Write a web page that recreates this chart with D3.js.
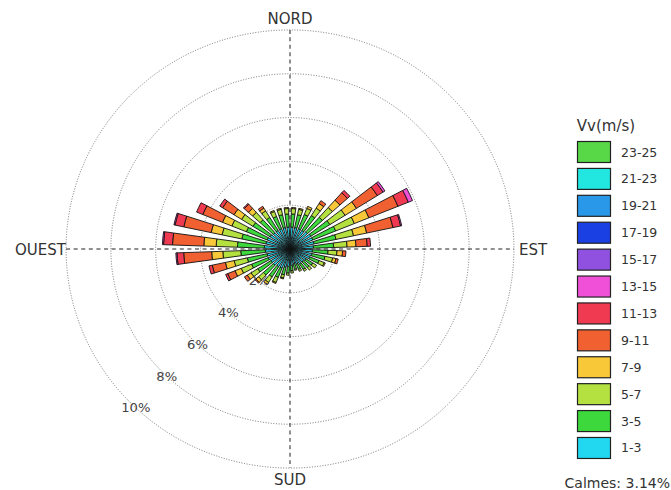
<!DOCTYPE html>
<html>
<head>
<meta charset="utf-8">
<script src="https://cdn.jsdelivr.net/npm/d3@7"></script>
<style>
  body { margin: 0; background: #fff; }
  svg { font-family: "DejaVu Sans", sans-serif; }
</style>
</head>
<body>
<div id="plot-container"></div>
<script>
// directions (compass degrees, bin centres)
const directions = [5, 15, 25, 35, 45, 55, 65, 75, 85, 95, 105, 115, 125, 135, 145, 155, 165, 175,
  185, 195, 205, 215, 225, 235, 245, 255, 265, 275, 285, 295, 305, 315, 325, 335, 345, 355];

// frequency (%) per speed class, one value per direction
const v1_3 = [1.0, 1.0, 1.0, 1.0, 1.05, 1.1, 1.1, 1.1, 1.05, 1.0, 1.0, 0.95, 0.85, 0.8, 0.8, 0.75, 0.7, 0.75,
  0.8, 0.85, 0.95, 0.95, 1.0, 1.0, 1.05, 1.05, 1.1, 1.15, 1.1, 1.1, 1.05, 1.0, 1.0, 1.0, 1.0, 1.0];
const v3_5 = [0.6, 0.6, 0.7, 0.8, 0.9, 1.0, 1.1, 1.0, 0.9, 0.7, 0.6, 0.45, 0.35, 0.35, 0.3, 0.25, 0.25, 0.25,
  0.3, 0.35, 0.45, 0.55, 0.6, 0.7, 0.8, 0.9, 1.1, 1.2, 1.1, 1.0, 0.9, 0.8, 0.7, 0.6, 0.6, 0.6];
const v5_7 = [0.25, 0.25, 0.3, 0.4, 0.6, 0.8, 0.9, 0.8, 0.6, 0.4, 0.35, 0.25, 0.2, 0.15, 0.1, 0.1, 0.05, 0.1,
  0.1, 0.15, 0.25, 0.3, 0.3, 0.35, 0.5, 0.6, 0.8, 0.95, 0.9, 0.7, 0.6, 0.45, 0.35, 0.25, 0.25, 0.25];
const v7_9 = [0.05, 0.05, 0.1, 0.25, 0.45, 0.6, 0.7, 0.6, 0.4, 0.25, 0.15, 0.05, 0, 0, 0, 0, 0, 0,
  0, 0.05, 0.05, 0.1, 0.15, 0.2, 0.3, 0.4, 0.5, 0.55, 0.5, 0.45, 0.4, 0.25, 0.15, 0.05, 0.05, 0.05];
const v9_11 = [0, 0, 0, 0.15, 0.45, 1.1, 1.4, 1.2, 0.5, 0.15, 0.1, 0, 0, 0, 0, 0, 0, 0,
  0, 0, 0, 0, 0.05, 0.15, 0.35, 0.6, 1.25, 1.4, 1.25, 0.95, 0.6, 0.25, 0.1, 0, 0, 0];
const v11_13 = [0, 0, 0, 0, 0.15, 0.3, 0.5, 0.35, 0.15, 0, 0, 0, 0, 0, 0, 0, 0, 0,
  0, 0, 0, 0, 0, 0, 0.1, 0.15, 0.3, 0.4, 0.4, 0.3, 0.15, 0.05, 0, 0, 0, 0];
const v13_15 = [0, 0, 0, 0, 0, 0.1, 0.2, 0.05, 0, 0, 0, 0, 0, 0, 0, 0, 0, 0,
  0, 0, 0, 0, 0, 0, 0, 0, 0.05, 0.05, 0.05, 0, 0, 0, 0, 0, 0, 0];
const v15_17 = directions.map(() => 0);
const v17_19 = directions.map(() => 0);
const v19_21 = directions.map(() => 0);
const v21_23 = directions.map(() => 0);
const v23_25 = directions.map(() => 0);

const classes = ['1-3', '3-5', '5-7', '7-9', '9-11', '11-13', '13-15', '15-17', '17-19', '19-21', '21-23', '23-25'];
const classValues = [v1_3, v3_5, v5_7, v7_9, v9_11, v11_13, v13_15, v15_17, v17_19, v19_21, v21_23, v23_25];
const classColors = ['#22d8f0', '#3cd83c', '#b4e040', '#f8c838', '#f06030', '#f03a52', '#f050d8',
  '#9050e0', '#1a40e4', '#2a98e8', '#22e6e0', '#58d846'];

const ringTicks = [2, 4, 6, 8, 10];
const cardinals = ['NORD', 'EST', 'SUD', 'OUEST'];
const calmes = 3.14;

const width = 671;
const height = 490;
const cx = 290;
const cy = 249;

const svg = d3.select('#plot-container')
  .append('svg')
  .attr('width', width)
  .attr('height', height);

const rScale = d3.scaleLinear().domain([0, 10]).range([0, 221.5]);

const plot = svg.append('g')
  .attr('transform', `translate(${cx}, ${cy}) scale(1.011, 0.989)`);

// rings (dotted)
plot.selectAll('circle.ring')
  .data(ringTicks)
  .enter()
  .append('circle')
  .attr('class', 'ring')
  .attr('r', d => rScale(d))
  .attr('fill', 'none')
  .attr('stroke', '#555')
  .attr('stroke-width', 0.8)
  .attr('stroke-dasharray', '1,1.6');

// cross axes (dashed)
const rMax = rScale(10);
plot.append('line').attr('x1', -rMax).attr('x2', rMax).attr('y1', 0).attr('y2', 0)
  .attr('stroke', '#222').attr('stroke-width', 1).attr('stroke-dasharray', '4,3.5');
plot.append('line').attr('x1', 0).attr('x2', 0).attr('y1', -rMax).attr('y2', rMax)
  .attr('stroke', '#222').attr('stroke-width', 1).attr('stroke-dasharray', '4,3.5');

// ring labels
const labelAngle = 223.5 * Math.PI / 180;
plot.selectAll('text.rlabel')
  .data(ringTicks)
  .enter()
  .append('text')
  .attr('class', 'rlabel')
  .attr('x', d => rScale(d) * Math.sin(labelAngle))
  .attr('y', d => -rScale(d) * Math.cos(labelAngle))
  .attr('text-anchor', 'middle')
  .attr('dominant-baseline', 'central')
  .attr('font-size', 13)
  .attr('fill', '#444')
  .text(d => `${d}%`);

// stacked bars
const table = directions.map((dir, i) => {
  const row = { dir };
  classes.forEach((c, k) => { row[c] = classValues[k][i]; });
  return row;
});
const series = d3.stack().keys(classes)(table);

const halfWidth = 3 * Math.PI / 180;
const arc = d3.arc()
  .innerRadius(d => rScale(d[0]))
  .outerRadius(d => rScale(d[1]))
  .startAngle(d => d.data.dir * Math.PI / 180 - halfWidth)
  .endAngle(d => d.data.dir * Math.PI / 180 + halfWidth);

plot.selectAll('g.layer')
  .data(series)
  .enter()
  .append('g')
  .attr('class', 'layer')
  .attr('fill', (d, i) => classColors[i])
  .selectAll('path')
  .data(d => d.filter(s => s[1] - s[0] > 0))
  .enter()
  .append('path')
  .attr('d', arc)
  .attr('stroke', '#111')
  .attr('stroke-width', 0.9);

// cardinal labels
const labelStyle = sel => sel.attr('font-size', 15).attr('fill', '#333');
svg.append('text').attr('x', cx).attr('y', 24).attr('text-anchor', 'middle').text(cardinals[0]).call(labelStyle);
svg.append('text').attr('x', 519).attr('y', 255).attr('text-anchor', 'start').text(cardinals[1]).call(labelStyle);
svg.append('text').attr('x', cx).attr('y', 485).attr('text-anchor', 'middle').text(cardinals[2]).call(labelStyle);
svg.append('text').attr('x', 66).attr('y', 255).attr('text-anchor', 'end').text(cardinals[3]).call(labelStyle);

// legend
svg.append('text').attr('x', 606).attr('y', 131).attr('text-anchor', 'middle')
  .attr('font-size', 15).attr('fill', '#333').text('Vv(m/s)');

const legendOrder = classes.slice().reverse();
const legendY = d3.scaleBand().domain(legendOrder).range([139, 456.5]).paddingInner(0.2);

const legend = svg.append('g');
legend.selectAll('rect')
  .data(legendOrder)
  .enter()
  .append('rect')
  .attr('x', 577.5)
  .attr('y', d => legendY(d) + 2.5)
  .attr('width', 33)
  .attr('height', 21)
  .attr('fill', d => classColors[classes.indexOf(d)])
  .attr('stroke', '#222')
  .attr('stroke-width', 1.2);

legend.selectAll('text')
  .data(legendOrder)
  .enter()
  .append('text')
  .attr('x', 621)
  .attr('y', d => legendY(d) + 13)
  .attr('dominant-baseline', 'central')
  .attr('font-size', 12.5)
  .attr('fill', '#333')
  .text(d => d);

svg.append('clipPath').attr('id', 'calm-clip')
  .append('rect').attr('x', 553).attr('y', 460).attr('width', 120).attr('height', 30);
svg.append('text').attr('x', 670).attr('y', 488)
  .attr('text-anchor', 'end')
  .attr('font-size', 14)
  .attr('fill', '#333')
  .attr('clip-path', 'url(#calm-clip)')
  .text(`Calmes: ${calmes}%`);
</script>
</body>
</html>
